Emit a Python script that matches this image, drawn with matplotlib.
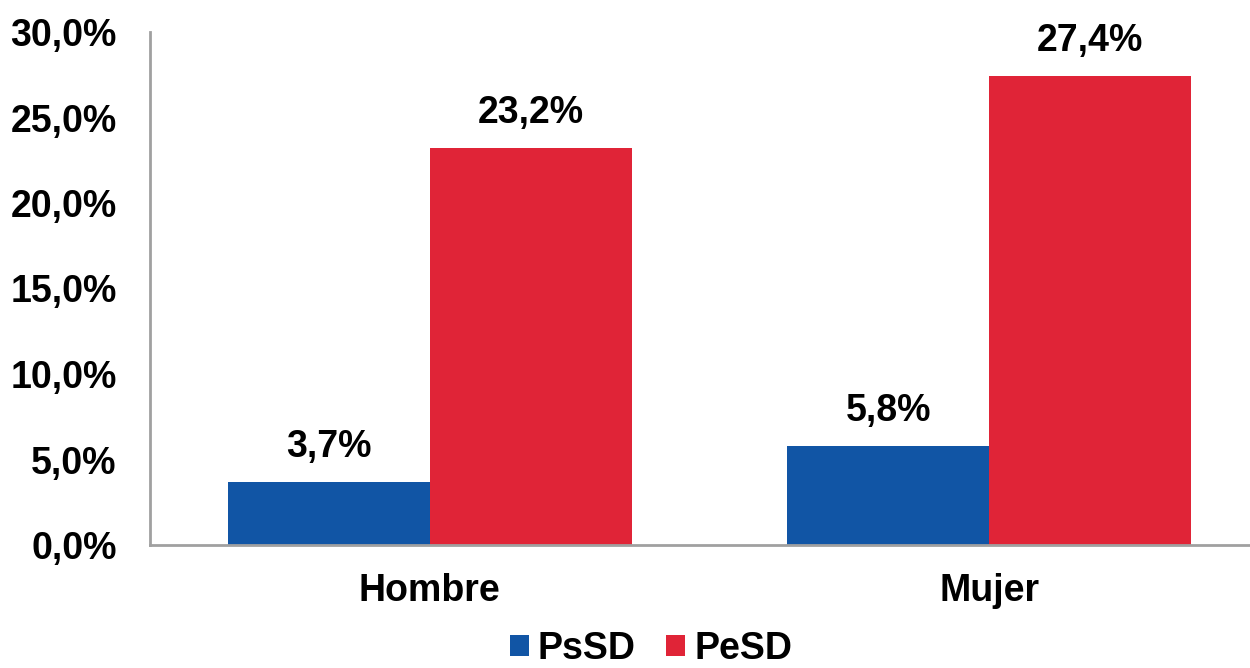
import matplotlib
matplotlib.use("Agg")
import matplotlib.pyplot as plt
import numpy as np

categories = ["Hombre", "Mujer"]
psd = [3.7, 5.8]
pesd = [23.2, 27.4]
series_names = ["PsSD", "PeSD"]
yticks = [0, 5, 10, 15, 20, 25, 30]

plt.rcParams['font.family'] = ['Liberation Sans', 'DejaVu Sans']
plt.rcParams['font.weight'] = 'bold'

W, H = 1250, 668
fig = plt.figure(figsize=(W/100, H/100), dpi=100)
ax = fig.add_axes([150/W, (H-545)/H, 1119/W, 513/H])

blue = "#1155A5"
red = "#E02437"
x = np.arange(len(categories))
bw = 0.361
b1 = ax.bar(x - bw/2, psd, bw, color=blue, label=series_names[0])
b2 = ax.bar(x + bw/2, pesd, bw, color=red, label=series_names[1])

fs = 27
for bars, vals in ((b1, psd), (b2, pesd)):
    for r, v in zip(bars, vals):
        ax.text(r.get_x() + r.get_width()/2, v + 1.0, f"{v:.1f}%".replace(".", ","),
                ha="center", va="bottom", fontsize=fs, fontweight="bold")

ax.set_xlim(-0.5, 1.5)
ax.set_ylim(0, 30)
ax.set_yticks(yticks)
ax.set_yticklabels([f"{t:.1f}%".replace(".", ",") for t in yticks], fontsize=fs, fontweight="bold")
ax.set_xticks(x)
ax.set_xticklabels(categories, fontsize=fs, fontweight="bold")
ax.tick_params(axis="y", length=0, pad=24)
ax.tick_params(axis="x", length=0, pad=20)
for s in ("top", "right"):
    ax.spines[s].set_visible(False)
for s in ("left", "bottom"):
    ax.spines[s].set_color("#A0A0A0")
    ax.spines[s].set_linewidth(2)

leg = fig.legend(handles=[b1, b2], loc="center", bbox_to_anchor=(651/W, 1 - 649/H),
                 ncol=2, frameon=False, prop={"weight": "bold", "size": fs},
                 handlelength=0.5, handleheight=0.5, handletextpad=0.25, columnspacing=0.8,
                 borderpad=0.1)

fig.savefig("out.png", dpi=100)
